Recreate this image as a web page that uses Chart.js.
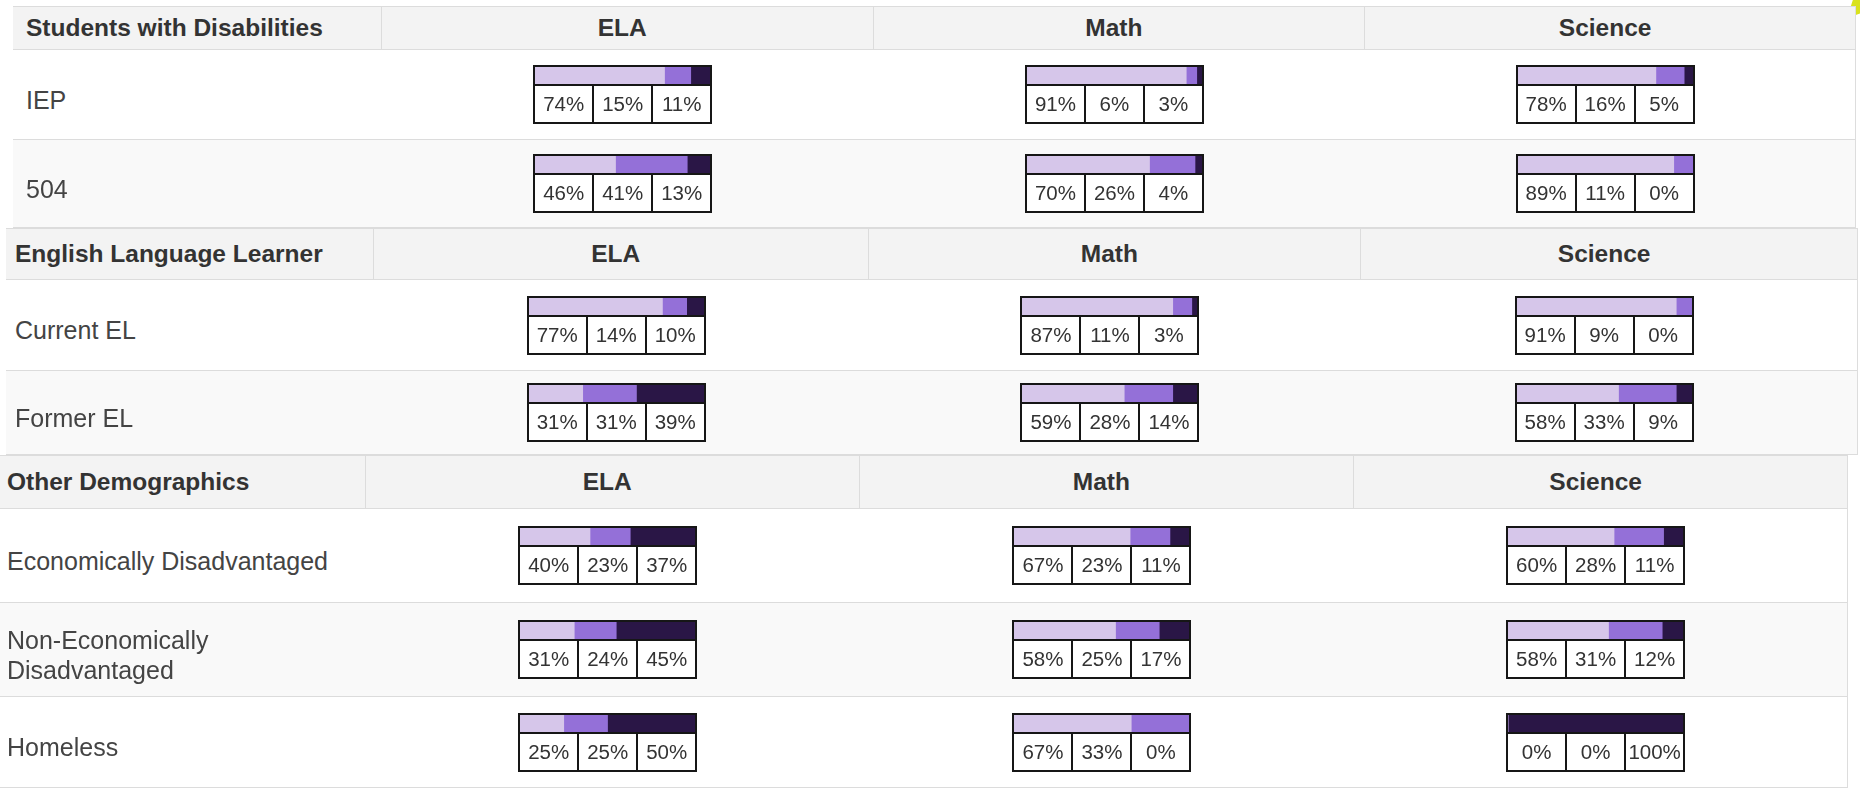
<!DOCTYPE html>
<html>
<head>
<meta charset="utf-8">
<title>Performance by student group</title>
<script src="https://cdn.jsdelivr.net/npm/chart.js@4.4.1/dist/chart.umd.min.js"></script>
<style>
  html, body { margin: 0; padding: 0; background: #fff; }
  body { width: 1860px; height: 788px; position: relative; overflow: hidden;
         font-family: "Liberation Sans", Arial, sans-serif; color: #333; }
  .section { position: absolute; box-sizing: border-box; border-right: 1px solid #ddd; }
  .row { display: flex; box-sizing: border-box; border-bottom: 1px solid #dcdcdc; }
  .head { background: #f3f3f3; border-top: 1px solid #dcdcdc; }
  .cell { box-sizing: border-box; display: flex; align-items: center; }
  .head .cell { border-right: 1px solid #dcdcdc; font-weight: bold; font-size: 24.5px; color: #333; padding-top: 0; }
  .head .cell:last-child { border-right: none; }
  .label { font-size: 25px; color: #444; line-height: 30px; padding-top: 10px; }
  .subj { justify-content: center; padding-right: 10px; }
  .meter { width: 179px; box-sizing: border-box; border: 2px solid #161616; background: #fff; }
  .meter canvas { display: block; }
  .pct { display: flex; border-top: 2px solid #161616; height: 38px; box-sizing: border-box; }
  .pct span { flex: 1; display: flex; align-items: center; justify-content: center;
              font-size: 20.5px; color: #333; border-left: 2px solid #161616; }
  .pct span:first-child { border-left: none; }
  .corner { position: absolute; left: 1847px; top: 0; width: 13px; height: 18px;
            background: #d9e21c; clip-path: polygon(45% 0, 100% 0, 100% 75%, 0 100%); }
</style>
</head>
<body>
<div class="corner"></div>
<script>
const groups = ["Students with Disabilities", "English Language Learner", "Other Demographics"];
const subjects = ["ELA", "Math", "Science"];
const groupRows = [
    ["IEP", "504"],
    ["Current EL", "Former EL"],
    ["Economically Disadvantaged", "Non-Economically\nDisadvantaged", "Homeless"]
];

// percent of students in each level (low, mid, high), per subject: ELA, Math, Science
const iep        = [[74, 15, 11], [91, 6, 3],   [78, 16, 5]];
const sec504     = [[46, 41, 13], [70, 26, 4],  [89, 11, 0]];
const currentEl  = [[77, 14, 10], [87, 11, 3],  [91, 9, 0]];
const formerEl   = [[31, 31, 39], [59, 28, 14], [58, 33, 9]];
const econDis    = [[40, 23, 37], [67, 23, 11], [60, 28, 11]];
const nonEconDis = [[31, 24, 45], [58, 25, 17], [58, 31, 12]];
const homeless   = [[25, 25, 50], [67, 33, 0],  [0, 0, 100]];

const groupValues = [[iep, sec504], [currentEl, formerEl], [econDis, nonEconDis, homeless]];
const levelColors = ["#d6c6ea", "#9470d8", "#2a1646"];

// placement of each group table on the page
const layout = [
    { left: 13, top: 6,   cols: [369, 492, 492, 490], head: 44, rows: [90, 88],     pad: 13 },
    { left: 6,  top: 228, cols: [368, 495, 493, 496], head: 52, rows: [91, 84],     pad: 9 },
    { left: 0,  top: 455, cols: [366, 494, 495, 493], head: 54, rows: [94, 94, 91], pad: 7 }
];

function makeCell(width, cls) {
    const c = document.createElement("div");
    c.className = "cell " + cls;
    c.style.width = width + "px";
    return c;
}

function drawMeter(canvas, vals) {
    const total = vals.reduce((a, b) => a + b, 0);
    new Chart(canvas, {
        type: "bar",
        data: {
            labels: [""],
            datasets: vals.map((v, i) => ({
                data: [v],
                backgroundColor: levelColors[i],
                borderWidth: 0,
                barPercentage: 1,
                categoryPercentage: 1
            }))
        },
        options: {
            indexAxis: "y",
            responsive: false,
            animation: false,
            events: [],
            layout: { padding: 0 },
            plugins: { legend: { display: false }, tooltip: { enabled: false } },
            scales: {
                x: { stacked: true, min: 0, max: total, display: false },
                y: { stacked: true, display: false }
            }
        }
    });
}

function buildMeter(vals) {
    const meter = document.createElement("div");
    meter.className = "meter";
    const canvas = document.createElement("canvas");
    canvas.width = 175;
    canvas.height = 17;
    meter.appendChild(canvas);
    const pct = document.createElement("div");
    pct.className = "pct";
    vals.forEach(v => {
        const s = document.createElement("span");
        s.textContent = v + "%";
        pct.appendChild(s);
    });
    meter.appendChild(pct);
    return { meter, canvas };
}

const pending = [];

groups.forEach((group, g) => {
    const L = layout[g];
    const sec = document.createElement("div");
    sec.className = "section";
    sec.style.left = L.left + "px";
    sec.style.top = L.top + "px";
    sec.style.width = L.cols.reduce((a, b) => a + b, 0) + "px";

    // header row
    const head = document.createElement("div");
    head.className = "row head";
    head.style.height = L.head + "px";
    const hc = makeCell(L.cols[0], "");
    hc.style.paddingLeft = L.pad + "px";
    hc.textContent = group;
    head.appendChild(hc);
    subjects.forEach((s, i) => {
        const c = makeCell(L.cols[i + 1], "subj");
        c.textContent = s;
        head.appendChild(c);
    });
    sec.appendChild(head);

    // one row per student group
    groupRows[g].forEach((name, r) => {
        const row = document.createElement("div");
        row.className = "row";
        row.style.height = L.rows[r] + "px";
        row.style.background = r % 2 === 0 ? "#ffffff" : "#f9f9f9";
        const lc = makeCell(L.cols[0], "label");
        lc.style.paddingLeft = L.pad + "px";
        lc.innerHTML = name.replace("\n", "<br>");
        row.appendChild(lc);
        groupValues[g][r].forEach((vals, i) => {
            const c = makeCell(L.cols[i + 1], "subj");
            const m = buildMeter(vals);
            c.appendChild(m.meter);
            row.appendChild(c);
            pending.push([m.canvas, vals]);
        });
        sec.appendChild(row);
    });

    document.body.appendChild(sec);
});

pending.forEach(([canvas, vals]) => drawMeter(canvas, vals));
</script>
</body>
</html>
